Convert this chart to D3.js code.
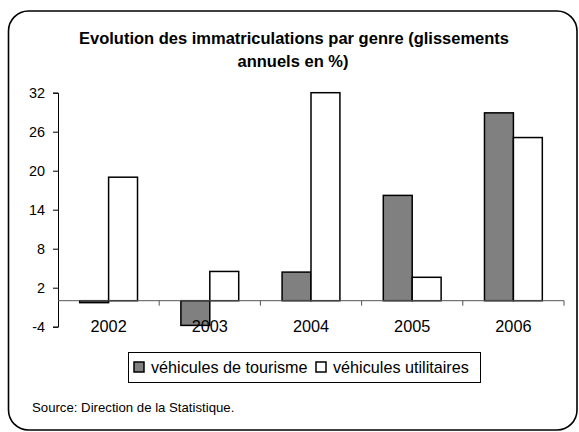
<!DOCTYPE html>
<html>
<head>
<meta charset="utf-8">
<script src="https://cdn.jsdelivr.net/npm/d3@7"></script>
<style>
  body { margin: 0; background: #fff; }
  svg { font-family: "Liberation Sans", Arial, sans-serif; }
</style>
</head>
<body>
<svg id="chart" width="579" height="432"></svg>
<script>
// data
const years = ["2002", "2003", "2004", "2005", "2006"];
const tourisme = [-0.3, -3.8, 4.4, 16.2, 28.9];
const utilitaires = [19.0, 4.5, 32.0, 3.6, 25.1];
const yTicks = [-4, 2, 8, 14, 20, 26, 32];
const seriesNames = ["véhicules de tourisme", "véhicules utilitaires"];
const seriesFill = ["#808080", "#ffffff"];

const svg = d3.select("#chart");

// outer frame
svg.append("rect")
    .attr("x", 8.5).attr("y", 11)
    .attr("width", 568.5).attr("height", 419)
    .attr("rx", 20).attr("ry", 20)
    .attr("fill", "#fff").attr("stroke", "#000").attr("stroke-width", 1.6);

// title
const title = svg.append("text")
    .attr("text-anchor", "middle")
    .attr("font-weight", "bold")
    .attr("font-size", 16.5);
title.append("tspan").attr("x", 294).attr("y", 44).text("Evolution des immatriculations par genre (glissements");
title.append("tspan").attr("x", 293).attr("y", 67).text("annuels en %)");

// scales
const plot = { left: 58, right: 564, top: 92.7, bottom: 326.7 };
const x = d3.scaleBand().domain(years).range([plot.left, plot.right]);
const y = d3.scaleLinear().domain([-4, 32]).range([plot.bottom, plot.top]);

const bw = x.bandwidth() / 3.5;   // gap width 150%
const off = bw * 0.75;

const rows = years.map((yr, i) => ({ yr, vals: [tourisme[i], utilitaires[i]] }));

const g = svg.append("g");
rows.forEach(r => {
    r.vals.forEach((v, s) => {
        const y0 = y(0), y1 = y(v);
        g.append("rect")
            .attr("x", x(r.yr) + off + s * bw)
            .attr("y", Math.min(y0, y1))
            .attr("width", bw)
            .attr("height", Math.max(Math.abs(y1 - y0), 0.5))
            .attr("fill", seriesFill[s])
            .attr("stroke", "#000")
            .attr("stroke-width", 1.5);
    });
});

// y axis
const yAxis = svg.append("g")
    .attr("transform", `translate(${plot.left},0)`)
    .call(d3.axisLeft(y).tickValues(yTicks).tickSize(5).tickPadding(8).tickFormat(d => String(d)));
yAxis.select(".domain").attr("stroke", "#000");
yAxis.selectAll(".tick line").attr("stroke", "#000");
yAxis.selectAll("text").attr("font-size", 14.4).attr("font-family", "Liberation Sans, Arial, sans-serif").attr("fill", "#000");

// x axis at zero
const xAxisG = svg.append("g").attr("transform", `translate(0,${y(0)})`);
xAxisG.append("line")
    .attr("x1", plot.left).attr("x2", plot.right)
    .attr("stroke", "#555").attr("stroke-width", 1);
const xEdges = years.map(d => x(d) + x.bandwidth());
xAxisG.selectAll(".xt").data(xEdges).enter().append("line")
    .attr("x1", d => d).attr("x2", d => d)
    .attr("y1", 0).attr("y2", 5)
    .attr("stroke", "#555");
svg.append("g").selectAll("text").data(years).enter().append("text")
    .attr("x", d => x(d) + x.bandwidth() / 2)
    .attr("y", 332)
    .attr("text-anchor", "middle")
    .attr("font-size", 16.3)
    .text(d => d);

// legend
const lg = svg.append("g");
lg.append("rect")
    .attr("x", 128.5).attr("y", 352.5).attr("width", 352).attr("height", 30)
    .attr("fill", "#fff").attr("stroke", "#000").attr("stroke-width", 1);
const legX = [134, 316];
seriesNames.forEach((name, i) => {
    lg.append("rect")
        .attr("x", legX[i]).attr("y", 362).attr("width", 10).attr("height", 10)
        .attr("fill", seriesFill[i]).attr("stroke", "#000").attr("stroke-width", 1.5);
    lg.append("text")
        .attr("x", legX[i] + 17).attr("y", 373)
        .attr("font-size", 16.2)
        .text(name);
});

// source
svg.append("text")
    .attr("x", 32).attr("y", 412)
    .attr("font-size", 13.2)
    .text("Source: Direction de la Statistique.");
</script>
</body>
</html>
